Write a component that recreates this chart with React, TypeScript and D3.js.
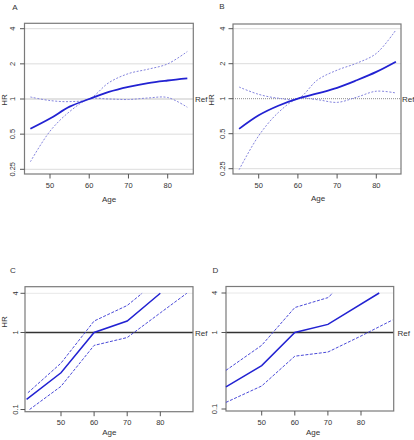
import React from "react";
import * as d3 from "d3";

// ---- Data ----
const AGE_AB = [45, 50, 55, 60, 65, 70, 75, 80, 85];
const A_HR = [0.556, 0.68, 0.86, 1.0, 1.15, 1.27, 1.37, 1.44, 1.5];
const A_UPPER = [1.04, 0.97, 0.95, 1.0, 1.38, 1.65, 1.8, 2.0, 2.55];
const A_LOWER = [0.29, 0.53, 0.78, 1.0, 1.0, 0.99, 1.02, 1.03, 0.85];

const B_HR = [0.55, 0.72, 0.87, 1.0, 1.11, 1.24, 1.44, 1.7, 2.08];
const B_UPPER = [1.26, 1.09, 1.01, 1.0, 1.45, 1.76, 2.02, 2.45, 3.9];
const B_LOWER = [0.245, 0.48, 0.76, 1.0, 0.98, 0.93, 1.03, 1.16, 1.12];

const C_AGE = [39.6, 50, 60, 70, 80];
const C_HR = [0.135, 0.3, 1.0, 1.5, 4.0];
const C_UPPER_AGE = [40, 50, 60, 70, 74.5];
const C_UPPER = [0.165, 0.4, 1.5, 2.6, 4.0];
const C_LOWER_AGE = [40.5, 50, 60, 70, 80, 88];
const C_LOWER = [0.1, 0.2, 0.68, 0.86, 2.0, 4.0];

const D_AGE = [39.2, 50, 60, 70, 85.5];
const D_HR = [0.195, 0.37, 1.0, 1.33, 4.0];
const D_UPPER_AGE = [39.2, 50, 60, 70, 71.5];
const D_UPPER = [0.32, 0.68, 2.4, 3.4, 4.0];
const D_LOWER_AGE = [39.2, 50, 60, 70, 80, 89.5];
const D_LOWER = [0.122, 0.2, 0.49, 0.555, 0.9, 1.55];

const X_TICKS = [50, 60, 70, 80];
const Y_TICKS_AB = [0.25, 0.5, 1, 2, 4];
const Y_TICKS_CD = [0.1, 1, 4];

const FONT = "Liberation Sans, Arial, sans-serif";
const MAIN = "#2222d2";
const CI_AB = "#8585de";
const CI_CD = "#4a4ad8";

type Series = { x: number[]; y: number[] };

type PanelProps = {
  letter: string;
  letterPos: [number, number];
  frame: { x0: number; x1: number; y0: number; y1: number };
  xScale: d3.ScaleLinear<number, number>;
  yScale: any;
  yTicks: number[];
  yLabels: string[];
  yLabelX: number;
  hrPos?: [number, number];
  agePos: [number, number];
  xLabelY: number;
  refX: number;
  main: Series;
  ci: Series[];
  smooth: boolean;
  style: "ab" | "cd";
};

function Panel(p: PanelProps) {
  const { frame, xScale, yScale } = p;
  const curve = p.smooth ? d3.curveCatmullRom.alpha(0.5) : d3.curveLinear;
  const mk = (s: Series) =>
    d3
      .line<number>()
      .x((_, i) => xScale(s.x[i]))
      .y((v) => yScale(v))
      .curve(curve)(s.y) || "";
  const ciColor = p.style === "ab" ? CI_AB : CI_CD;
  const ciDash = p.style === "ab" ? "2,1.6" : "3,1.5";
  return (
    <g>
      <text x={p.letterPos[0]} y={p.letterPos[1]} fontSize={8} textAnchor="middle" fill="#333" fontFamily={FONT}>
        {p.letter}
      </text>
      {/* grid / reference lines */}
      {p.yTicks.map((t) => {
        const y = yScale(t);
        if (t === 1) {
          return p.style === "ab" ? (
            <line key={t} x1={frame.x0} x2={frame.x1} y1={y} y2={y} stroke="#8a8a8a" strokeWidth={1} strokeDasharray="1,1" />
          ) : (
            <line key={t} x1={frame.x0} x2={frame.x1} y1={y} y2={y} stroke="#333" strokeWidth={1.3} />
          );
        }
        if (p.style === "cd" && t < 1) return null;
        return <line key={t} x1={frame.x0} x2={frame.x1} y1={y} y2={y} stroke={p.style === "ab" ? "#dcdcdc" : "#e8e8e8"} strokeWidth={1} />;
      })}
      {/* frame */}
      <rect x={frame.x0} y={frame.y0} width={frame.x1 - frame.x0} height={frame.y1 - frame.y0} fill="none" stroke="#7a7a7a" strokeWidth={1.2} />
      {/* y ticks */}
      {p.yTicks.map((t, i) => {
        const y = yScale(t);
        return (
          <g key={"yt" + t}>
            <line x1={frame.x0 - 4.5} x2={frame.x0} y1={y} y2={y} stroke="#555" strokeWidth={1} />
            <text
              transform={`translate(${p.yLabelX},${y}) rotate(-90)`}
              fontSize={7.5}
              textAnchor="middle"
              fill="#333"
              fontFamily={FONT}
            >
              {p.yLabels[i]}
            </text>
          </g>
        );
      })}
      {/* x ticks */}
      {X_TICKS.map((t) => {
        const x = xScale(t);
        return (
          <g key={"xt" + t}>
            <line x1={x} x2={x} y1={frame.y1} y2={frame.y1 + 4.5} stroke="#555" strokeWidth={1} />
            <text x={x} y={p.xLabelY} fontSize={7.5} textAnchor="middle" fill="#333" fontFamily={FONT}>
              {t}
            </text>
          </g>
        );
      })}
      <text x={p.agePos[0]} y={p.agePos[1]} fontSize={8} textAnchor="middle" fill="#333" fontFamily={FONT}>
        Age
      </text>
      {p.hrPos && (
        <text transform={`translate(${p.hrPos[0]},${p.hrPos[1]}) rotate(-90)`} fontSize={8} textAnchor="middle" fill="#333" fontFamily={FONT}>
          HR
        </text>
      )}
      <text x={p.refX} y={yScale(1) + 3} fontSize={8} fill="#333" fontFamily={FONT}>
        Ref
      </text>
      {/* lines */}
      {p.ci.map((s, i) => (
        <path key={"ci" + i} d={mk(s)} fill="none" stroke={ciColor} strokeWidth={1} strokeDasharray={ciDash} />
      ))}
      <path d={mk(p.main)} fill="none" stroke={MAIN} strokeWidth={p.style === "ab" ? 1.8 : 1.5} />
    </g>
  );
}

export default function App() {
  const xA = d3.scaleLinear().domain([50, 80]).range([50, 167.7]);
  const yA = d3.scaleLog().base(2).domain([0.25, 4]).range([169.3, 28.7]);
  const xB = d3.scaleLinear().domain([50, 80]).range([258.7, 376.3]);
  const yB = d3.scaleLog().base(2).domain([0.25, 4]).range([168.7, 28.7]);
  const xC = d3.scaleLinear().domain([50, 80]).range([61, 160.3]);
  const yC = d3.scaleLog().domain([0.1, 1, 4]).range([409.5, 332.5, 293.3]);
  const xD = d3.scaleLinear().domain([50, 80]).range([261.7, 361]);
  const yD = d3.scaleLog().domain([0.1, 1, 4]).range([409, 332.5, 293]);

  const labAB = ["0.25", "0.5", "1", "2", "4"];
  const labCD = ["0.1", "1", "4"];

  return (
    <svg width={414} height={440} style={{ position: "absolute", left: 0, top: 0, background: "#fff" }}>
      <Panel
        letter="A"
        letterPos={[15, 9.5]}
        frame={{ x0: 24.5, x1: 193.3, y0: 23.3, y1: 174 }}
        xScale={xA}
        yScale={yA}
        yTicks={Y_TICKS_AB}
        yLabels={labAB}
        yLabelX={15}
        hrPos={[7, 100]}
        agePos={[109, 201.5]}
        xLabelY={187.5}
        refX={195}
        main={{ x: AGE_AB, y: A_HR }}
        ci={[
          { x: AGE_AB, y: A_UPPER },
          { x: AGE_AB, y: A_LOWER },
        ]}
        smooth={true}
        style="ab"
      />
      <Panel
        letter="B"
        letterPos={[222, 9]}
        frame={{ x0: 233, x1: 401, y0: 24, y1: 174 }}
        xScale={xB}
        yScale={yB}
        yTicks={Y_TICKS_AB}
        yLabels={labAB}
        yLabelX={225}
        hrPos={[214, 100]}
        agePos={[318, 201]}
        xLabelY={187.5}
        refX={402}
        main={{ x: AGE_AB, y: B_HR }}
        ci={[
          { x: AGE_AB, y: B_UPPER },
          { x: AGE_AB, y: B_LOWER },
        ]}
        smooth={true}
        style="ab"
      />
      <Panel
        letter="C"
        letterPos={[13, 273]}
        frame={{ x0: 25, x1: 193, y0: 286.7, y1: 411.7 }}
        xScale={xC}
        yScale={yC}
        yTicks={Y_TICKS_CD}
        yLabels={labCD}
        yLabelX={17.5}
        hrPos={[6.5, 322]}
        agePos={[109.3, 435]}
        xLabelY={424.5}
        refX={195}
        main={{ x: C_AGE, y: C_HR }}
        ci={[
          { x: C_UPPER_AGE, y: C_UPPER },
          { x: C_LOWER_AGE, y: C_LOWER },
        ]}
        smooth={false}
        style="cd"
      />
      <Panel
        letter="D"
        letterPos={[215.3, 273]}
        frame={{ x0: 226, x1: 393.7, y0: 286.5, y1: 411 }}
        xScale={xD}
        yScale={yD}
        yTicks={Y_TICKS_CD}
        yLabels={labCD}
        yLabelX={217}
        agePos={[313, 435]}
        xLabelY={424.5}
        refX={397.5}
        main={{ x: D_AGE, y: D_HR }}
        ci={[
          { x: D_UPPER_AGE, y: D_UPPER },
          { x: D_LOWER_AGE, y: D_LOWER },
        ]}
        smooth={false}
        style="cd"
      />
    </svg>
  );
}
